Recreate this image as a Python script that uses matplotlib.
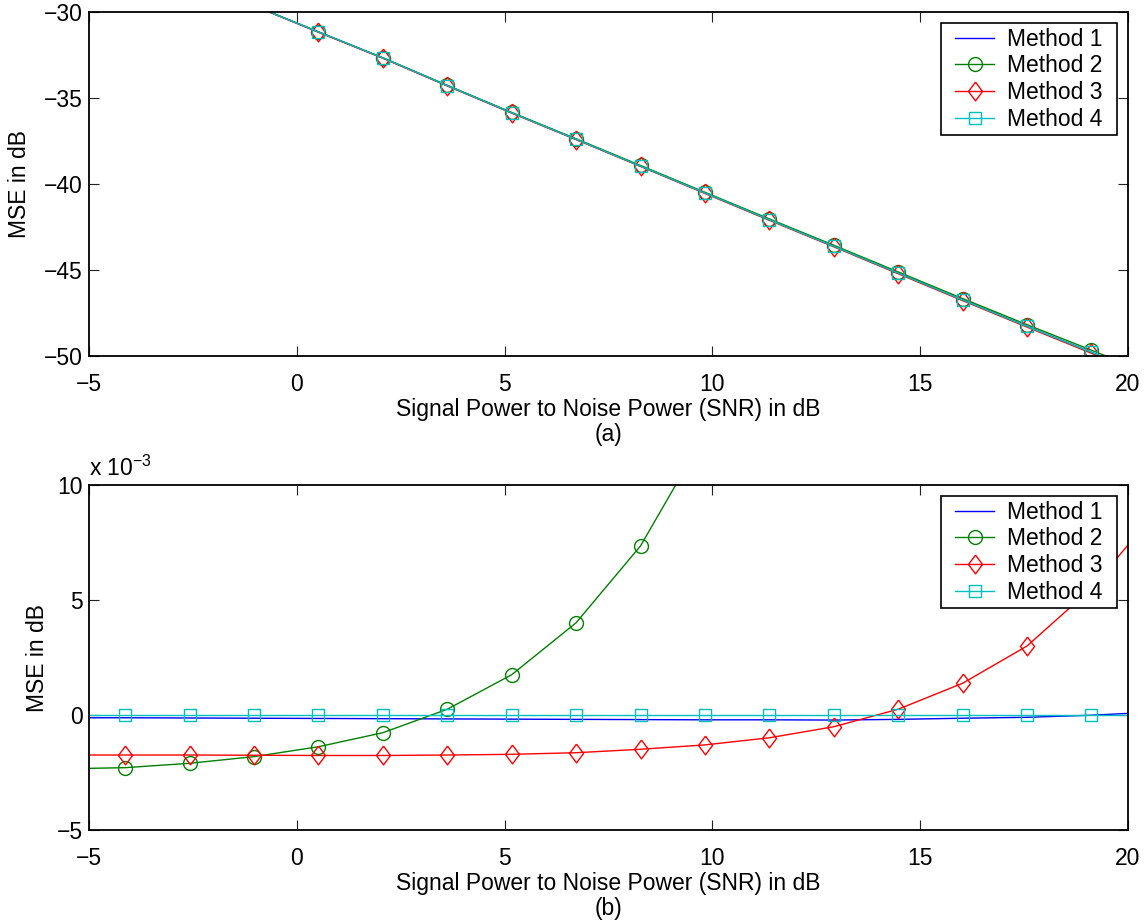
import matplotlib
matplotlib.use("Agg")
import matplotlib.pyplot as plt
from matplotlib.patches import Rectangle
import numpy as np

plt.rcParams['font.family'] = ['Liberation Sans', 'DejaVu Sans']
plt.rcParams['axes.unicode_minus'] = True

# SNR grids: first/last entries are the curve end points, the rest carry markers
snr_a = [-0.70, 0.52, 2.07, 3.62, 5.17, 6.72, 8.27, 9.82,
         11.37, 12.92, 14.47, 16.02, 17.57, 19.12, 20.0]
snr_b = [-5.0, -4.13, -2.58, -1.03, 0.52, 2.07, 3.62, 5.17, 6.72, 8.27, 9.82,
         11.37, 12.92, 14.47, 16.02, 17.57, 19.12, 20.0]

# (a) MSE in dB
mse_a_m1 = [-29.96, -31.16, -32.67, -34.28, -35.86, -37.40, -38.96, -40.52,
            -42.08, -43.62, -45.18, -46.74, -48.28, -49.78, -50.66]
mse_a_m2 = [-29.95, -31.15, -32.66, -34.26, -35.84, -37.37, -38.92, -40.48,
            -42.03, -43.56, -45.11, -46.66, -48.18, -49.66, -50.52]
mse_a_m3 = [-29.97, -31.18, -32.69, -34.30, -35.88, -37.42, -38.98, -40.55,
            -42.11, -43.65, -45.22, -46.78, -48.32, -49.84, -50.72]
mse_a_m4 = [-29.96, -31.16, -32.67, -34.28, -35.86, -37.40, -38.96, -40.52,
            -42.08, -43.62, -45.18, -46.74, -48.28, -49.78, -50.66]

# (b) MSE in dB, in units of 1e-3
mse_b_m1 = [-0.12, -0.12, -0.13, -0.14, -0.15, -0.16, -0.17, -0.18, -0.19,
            -0.20, -0.21, -0.21, -0.22, -0.19, -0.14, -0.10, -0.01, 0.07]
snr_b_m2 = [-5.0, -4.13, -2.58, -1.03, 0.52, 2.07, 3.62, 5.17, 6.72, 8.27, 9.82]
mse_b_m2 = [-2.32, -2.29, -2.10, -1.81, -1.38, -0.77, 0.25, 1.75, 4.01, 7.35, 12.2]
mse_b_m3 = [-1.74, -1.74, -1.74, -1.75, -1.76, -1.76, -1.74, -1.71, -1.64,
            -1.49, -1.30, -0.99, -0.51, 0.25, 1.38, 3.00, 5.50, 7.39]
mse_b_m4 = [0.0, 0.0, 0.0, 0.0, 0.0, 0.0, 0.0, 0.0, 0.0,
            0.0, 0.0, 0.0, 0.0, 0.0, 0.0, 0.0, 0.0, 0.0]

labels = ['Method 1', 'Method 2', 'Method 3', 'Method 4']
colors = ['#0000ff', '#008000', '#ff0000', '#00bfbf']

diamond = [(0, 1), (0.75, 0), (0, -1), (-0.75, 0), (0, 1)]

FS = 16.5
fig = plt.figure(figsize=(11.46, 9.22), dpi=100)
W, H = 1146, 922
LEFT, RIGHT = 89, 1128


def make_axes(top, bottom):
    return fig.add_axes([LEFT / W, 1 - bottom / H, (RIGHT - LEFT) / W, (bottom - top) / H])


def style(ax, ylim, yticks, sub, ylabelpad):
    ax.set_xlim(-5, 20)
    ax.set_ylim(*ylim)
    ax.set_xticks([-5, 0, 5, 10, 15, 20])
    ax.set_yticks(yticks)
    ax.tick_params(direction='in', length=7, width=0.8, top=True, right=True,
                   labelsize=FS, colors='#222222', labelcolor='black')
    ax.tick_params(axis='x', pad=12.5)
    ax.tick_params(axis='y', pad=4.5)
    for s in ax.spines.values():
        s.set_linewidth(1.3)
    ax.set_xlabel('Signal Power to Noise Power (SNR) in dB\n' + sub, fontsize=FS,
                  labelpad=1, linespacing=1.12)
    ax.set_ylabel('MSE in dB', fontsize=FS, labelpad=ylabelpad)


def add_legend(ax, height_px):
    # legend content sits inside a box that is wider than the default frame
    pad_x = 10
    dx = (11 + pad_x) / (RIGHT - LEFT)
    dy = 11 / height_px
    leg = ax.legend(loc='upper right', bbox_to_anchor=(1 - dx, 1 - dy),
                    borderaxespad=0, fontsize=FS, frameon=False,
                    borderpad=0.2, labelspacing=0.16, handlelength=1.7,
                    handletextpad=0.55, numpoints=1)
    fig.canvas.draw()
    bb = leg.get_window_extent().transformed(ax.transAxes.inverted())
    px = pad_x / (RIGHT - LEFT)
    box = Rectangle((bb.x0 - px, bb.y0), bb.width + 2 * px, bb.height,
                    transform=ax.transAxes, facecolor='white', edgecolor='black',
                    lw=1.2, zorder=4.9, clip_on=False)
    ax.add_patch(box)
    return leg


def draw(ax, x, m1, x2, m2, m3, m4):
    n = len(x)
    ax.plot(x, m1, color=colors[0], lw=1.0, label=labels[0])
    ax.plot(x2, m2, color=colors[1], lw=1.0, marker='o', ms=10, mfc='none',
            mew=1.0, markevery=list(range(1, len(x2))), label=labels[1])
    ax.plot(x, m3, color=colors[2], lw=1.0, marker=diamond, ms=13.5, mfc='none',
            mew=1.0, markevery=list(range(1, n - 1)), label=labels[2])
    ax.plot(x, m4, color=colors[3], lw=1.0, marker='s', ms=8.4, mfc='none',
            mew=1.0, markevery=list(range(1, n - 1)), label=labels[3])


ax1 = make_axes(12, 356)
draw(ax1, snr_a, mse_a_m1, snr_a, mse_a_m2, mse_a_m3, mse_a_m4)
style(ax1, (-50, -30), [-50, -45, -40, -35, -30], '(a)', 9)
add_legend(ax1, 344)

ax2 = make_axes(485, 830)
draw(ax2, snr_b, mse_b_m1, snr_b_m2, mse_b_m2, mse_b_m3, mse_b_m4)
style(ax2, (-5, 10), [-5, 0, 5, 10], '(b)', 5.5)
ax2.text(0.0, 1.012, r'x 10$^{\mathregular{-3}}$', transform=ax2.transAxes,
         fontsize=FS, ha='left', va='bottom')
add_legend(ax2, 345)

fig.savefig('out.png', dpi=100)
